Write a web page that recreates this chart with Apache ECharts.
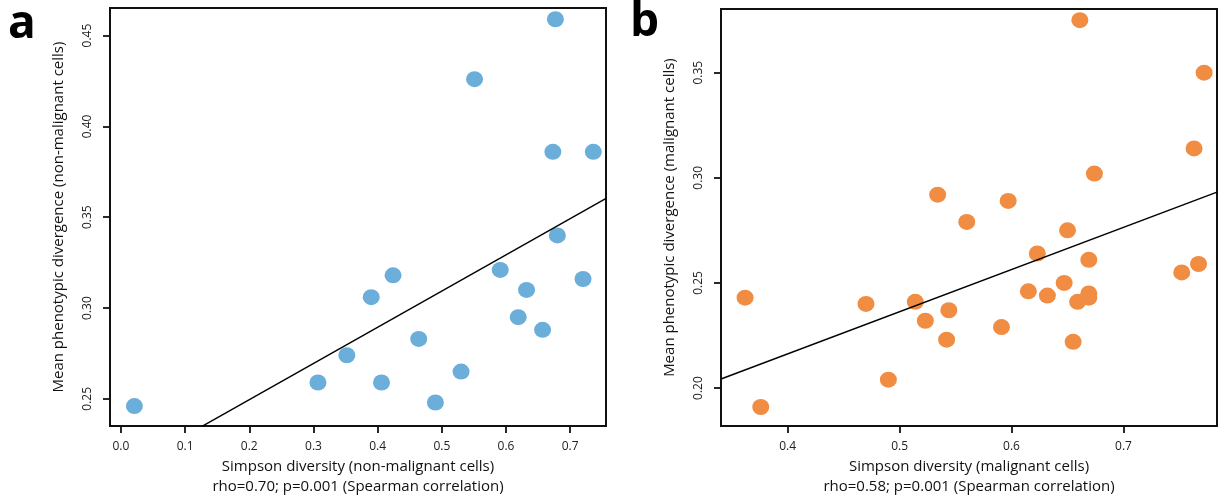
<!DOCTYPE html>
<html>
<head>
<meta charset="utf-8">
<script src="https://cdn.jsdelivr.net/npm/echarts@6/dist/echarts.min.js"></script>
<style>
  html, body { margin: 0; padding: 0; background: #fff; }
  #chart { width: 1220px; height: 502px; }
</style>
</head>
<body>
<div id="chart"></div>
<script>
// Panel a: non-malignant cells
const diversityA = [0.021, 0.307, 0.352, 0.390, 0.424, 0.406, 0.464, 0.490, 0.530, 0.551,
                    0.591, 0.619, 0.632, 0.657, 0.677, 0.673, 0.680, 0.720, 0.736];
const divergenceA = [0.246, 0.259, 0.274, 0.306, 0.318, 0.259, 0.283, 0.248, 0.265, 0.426,
                     0.321, 0.295, 0.310, 0.288, 0.459, 0.386, 0.340, 0.316, 0.386];
// fitted line end points (x, y)
const fitA = [[0.127, 0.235], [0.756, 0.3604]];

// Panel b: malignant cells
const diversityB = [0.362, 0.376, 0.470, 0.490, 0.514, 0.523, 0.534, 0.542, 0.544, 0.560,
                    0.591, 0.597, 0.615, 0.623, 0.632, 0.647, 0.650, 0.655, 0.659, 0.661,
                    0.669, 0.669, 0.669, 0.674, 0.752, 0.763, 0.767, 0.772];
const divergenceB = [0.243, 0.191, 0.240, 0.204, 0.241, 0.232, 0.292, 0.223, 0.237, 0.279,
                     0.229, 0.289, 0.246, 0.264, 0.244, 0.250, 0.275, 0.222, 0.241, 0.375,
                     0.245, 0.243, 0.261, 0.302, 0.255, 0.314, 0.259, 0.350];
const fitB = [[0.3405, 0.2043], [0.7835, 0.2932]];

// tick values
const xTicksA = [0.0, 0.1, 0.2, 0.3, 0.4, 0.5, 0.6, 0.7];
const yTicksA = [0.25, 0.30, 0.35, 0.40, 0.45];
const xTicksB = [0.4, 0.5, 0.6, 0.7];
const yTicksB = [0.20, 0.25, 0.30, 0.35];

const xNameA = 'Simpson diversity (non-malignant cells)';
const statA = 'rho=0.70; p=0.001 (Spearman correlation)';
const yNameA = 'Mean phenotypic divergence (non-malignant cells)';
const xNameB = 'Simpson diversity (malignant cells)';
const statB = 'rho=0.58; p=0.001 (Spearman correlation)';
const yNameB = 'Mean phenotypic divergence (malignant cells)';

const FONT = '"Open Sans", "Noto Sans", sans-serif';
const INK = '#111';

function zip(xs, ys) { return xs.map((x, i) => [x, ys[i]]); }

const axisLine = { show: true, onZero: false, lineStyle: { color: INK, width: 2 } };

function xAxisCfg(idx, min, max, ticks, name, stat, gap) {
  return {
    gridIndex: idx, type: 'value', min: min, max: max, position: 'bottom',
    axisLine: axisLine,
    splitLine: { show: false },
    axisTick: { show: true, inside: false, length: 7, customValues: ticks,
                lineStyle: { color: INK, width: 1.8 } },
    axisLabel: { customValues: ticks, formatter: v => v.toFixed(1),
                 color: '#222', fontFamily: FONT, fontSize: 12, margin: 14 },
    name: name + '\n' + stat, nameLocation: 'middle', nameGap: gap,
    nameTextStyle: { color: INK, fontFamily: FONT, fontSize: 15, lineHeight: 20 }
  };
}

function yAxisCfg(idx, min, max, ticks, name) {
  return {
    gridIndex: idx, type: 'value', min: min, max: max, position: 'left',
    axisLine: axisLine,
    splitLine: { show: false },
    axisTick: { show: true, inside: false, length: 7, customValues: ticks,
                lineStyle: { color: INK, width: 1.8 } },
    axisLabel: { customValues: ticks, formatter: v => v.toFixed(2), rotate: 90,
                 color: '#222', fontFamily: FONT, fontSize: 12, margin: 16 },
    name: name, nameLocation: 'middle', nameGap: 44,
    nameTextStyle: { color: INK, fontFamily: FONT, fontSize: 15 }
  };
}

const chart = echarts.init(document.getElementById('chart'), null, { renderer: 'canvas' });

chart.setOption({
  animation: false,
  backgroundColor: '#fff',
  grid: [
    { left: 110, top: 8, width: 496, height: 424, show: true,
      borderColor: INK, borderWidth: 2, backgroundColor: 'transparent' },
    { left: 721, top: 9, width: 496, height: 423, show: true,
      borderColor: INK, borderWidth: 2, backgroundColor: 'transparent' }
  ],
  xAxis: [
    xAxisCfg(0, -0.017, 0.7558, xTicksA, xNameA, statA, 28),
    xAxisCfg(1, 0.3405, 0.7835, xTicksB, xNameB, statB, 27)
  ],
  yAxis: [
    yAxisCfg(0, 0.235, 0.4652, yTicksA, yNameA),
    yAxisCfg(1, 0.1819, 0.3803, yTicksB, yNameB)
  ],
  graphic: [
    { type: 'text', left: 8, top: 2,
      style: { text: 'a', font: 'bold 46px "Open Sans", sans-serif', fill: '#000' } },
    { type: 'text', left: 630, top: 0,
      style: { text: 'b', font: 'bold 46px "Open Sans", sans-serif', fill: '#000' } }
  ],
  series: [
    { type: 'scatter', xAxisIndex: 0, yAxisIndex: 0, data: zip(diversityA, divergenceA),
      symbol: 'circle', symbolSize: [17, 16], itemStyle: { color: '#6aaed9', opacity: 1 }, z: 2 },
    { type: 'line', xAxisIndex: 0, yAxisIndex: 0, data: fitA, symbol: 'none', clip: true,
      lineStyle: { color: '#000', width: 1.4 }, z: 3 },
    { type: 'scatter', xAxisIndex: 1, yAxisIndex: 1, data: zip(diversityB, divergenceB),
      symbol: 'circle', symbolSize: [17, 16], itemStyle: { color: '#f08d43', opacity: 1 }, z: 2 },
    { type: 'line', xAxisIndex: 1, yAxisIndex: 1, data: fitB, symbol: 'none', clip: true,
      lineStyle: { color: '#000', width: 1.4 }, z: 3 }
  ]
});
</script>
</body>
</html>
